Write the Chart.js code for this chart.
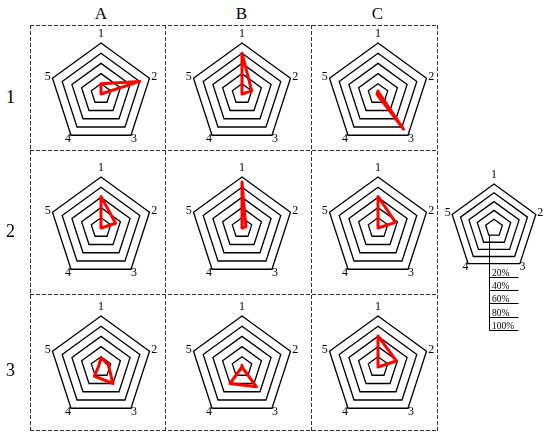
<!DOCTYPE html>
<html><head><meta charset="utf-8">
<script src="https://cdn.jsdelivr.net/npm/chart.js@4.4.1/dist/chart.umd.min.js"></script>
<style>
html,body{margin:0;padding:0;background:#fff;}
#wrap{position:relative;width:550px;height:437px;overflow:hidden;background:#fff;font-family:"Liberation Serif","Times New Roman",serif;}
canvas{position:absolute;}
.lbl{position:absolute;line-height:1;transform:translate(-50%,-50%);color:#000;white-space:nowrap;}
</style></head><body>
<div id="wrap">
<svg width="550" height="437" style="position:absolute;left:0;top:0">
<g stroke="#333" stroke-width="1" stroke-dasharray="4 2" fill="none">
<line x1="30.5" y1="25" x2="30.5" y2="431"/>
<line x1="165.5" y1="25" x2="165.5" y2="431"/>
<line x1="311.5" y1="25" x2="311.5" y2="431"/>
<line x1="437.5" y1="25" x2="437.5" y2="431"/>
<line x1="30" y1="25.5" x2="438" y2="25.5"/>
<line x1="30" y1="150.5" x2="438" y2="150.5"/>
<line x1="30" y1="294.5" x2="438" y2="294.5"/>
<line x1="30" y1="430.5" x2="438" y2="430.5"/>
</g>
</svg>
</div>
<script>
// ---- data ----
const axisLabels = ['1','2','3','4','5'];
const columnLabels = ['A','B','C'];
const rowLabels = ['1','2','3'];
const ringTicks = [20,40,60,80,100];
const legendLabels = ['20%','40%','60%','80%','100%'];
const A1 = [20,80,0,0,0];
const B1 = [80,20,0,0,0];
const C1 = [6,3,85,2,2];
const A2 = [62,30,0,0,0];
const B2 = [90,8,0,0,0];
const C2 = [62,36,0,0,0];
const A3 = [18,15,40,22,5];
const B3 = [4,0,48,40,0];
const C3 = [61,38,0,0,0];
const panelValues = [[A1,B1,C1],[A2,B2,C2],[A3,B3,C3]];

// ---- layout ----
const colX = [101,242,378];
const rowY = [94,228,367];
const wrap = document.getElementById('wrap');

const axisLabelPlugin = {
  id:'axisLabelPlugin',
  afterDraw(chart, args, opts){
    const s = chart.scales.r, ctx = chart.ctx;
    ctx.save();
    ctx.font = opts.font;
    ctx.fillStyle = '#000';
    ctx.textAlign = 'center';
    ctx.textBaseline = 'middle';
    chart.data.labels.forEach((t,i)=>{
      const p = s.getPointPosition(i, s.drawingArea + (i===0 ? opts.topGap : opts.gap));
      ctx.fillText(t, p.x, p.y);
    });
    ctx.restore();
  }
};

const legendTablePlugin = {
  id:'legendTablePlugin',
  afterDraw(chart, args, opts){
    const s = chart.scales.r, ctx = chart.ctx;
    const st = s.getPointPosition(3, s.getDistanceFromCenterForValue(ringTicks[0]));
    const x0 = Math.round(st.x) + 0.5;
    const lastY = Math.round(opts.firstLine + opts.step*(legendLabels.length-1)) + 0.5;
    ctx.save();
    ctx.strokeStyle = '#000';
    ctx.lineWidth = 1;
    ctx.beginPath();
    ctx.moveTo(x0, st.y);
    ctx.lineTo(x0, lastY);
    legendLabels.forEach((t,i)=>{
      const y = Math.round(opts.firstLine + opts.step*i) + 0.5;
      ctx.moveTo(x0, y);
      ctx.lineTo(x0 + opts.width, y);
    });
    ctx.stroke();
    ctx.font = opts.font;
    ctx.fillStyle = '#000';
    ctx.textAlign = 'left';
    ctx.textBaseline = 'alphabetic';
    legendLabels.forEach((t,i)=>{
      const y = Math.round(opts.firstLine + opts.step*i);
      ctx.fillText(t, x0 + 2.5, y - 1.5);
    });
    ctx.restore();
  }
};

function makeRadar(left, top, w, h, pad, values, labelOpts, extra){
  const c = document.createElement('canvas');
  c.width = w; c.height = h;
  c.style.left = left + 'px'; c.style.top = top + 'px';
  wrap.appendChild(c);
  const datasets = values ? [{
    data: values,
    borderColor: '#ff0000',
    borderWidth: 3,
    backgroundColor: 'rgba(0,0,0,0)',
    fill: false,
    pointRadius: 0,
    borderJoinStyle: 'round'
  }] : [];
  const plugins = [axisLabelPlugin];
  const pluginOpts = {legend:{display:false}, tooltip:{enabled:false}, axisLabelPlugin: labelOpts};
  if (extra) { plugins.push(legendTablePlugin); pluginOpts.legendTablePlugin = extra; }
  return new Chart(c, {
    type: 'radar',
    data: {labels: axisLabels, datasets},
    options: {
      responsive: false, animation: false,
      layout: {padding: pad},
      plugins: pluginOpts,
      scales: {r: {
        min: 0, max: 100,
        ticks: {display: false, stepSize: 20},
        grid: {color: '#000', lineWidth: 1.3},
        angleLines: {display: false},
        pointLabels: {display: false}
      }}
    },
    plugins
  });
}

for (let r = 0; r < 3; r++) {
  for (let c = 0; c < 3; c++) {
    makeRadar(colX[c]-70, rowY[r]-70, 140, 140, 19, panelValues[r][c],
      {font:'12px "Liberation Serif", serif', topGap:9.5, gap:5});
  }
}
// legend radar
makeRadar(440, 160, 110, 185, {left:10,right:12,top:24,bottom:73}, null,
  {font:'12px "Liberation Serif", serif', topGap:9, gap:4.5},
  {firstLine:116.7, step:13.3, width:29, font:'9.5px "Liberation Serif", serif'});

// header texts
function addText(t, x, y, size){
  const d = document.createElement('div');
  d.className = 'lbl';
  d.textContent = t;
  d.style.left = x + 'px'; d.style.top = y + 'px';
  d.style.fontSize = size + 'px';
  wrap.appendChild(d);
}
const colLabelX = [101,241.5,377.5];
columnLabels.forEach((t,i)=>addText(t, colLabelX[i], 13, 17));
const rowLabelY = [97,231,370];
rowLabels.forEach((t,i)=>addText(t, 10.5, rowLabelY[i], 18));
</script>
</body></html>
